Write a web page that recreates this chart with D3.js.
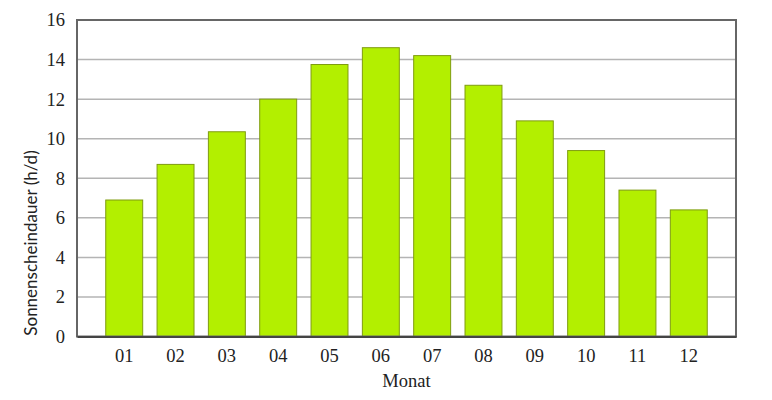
<!DOCTYPE html>
<html><head><meta charset="utf-8">
<script src="https://cdn.jsdelivr.net/npm/d3@7"></script>
<style>body{margin:0;background:#fff}svg{display:block}</style>
</head><body>
<svg id="c" width="772" height="400"></svg>
<script>
const months = ["01","02","03","04","05","06","07","08","09","10","11","12"];
const sunshine = [6.9, 8.7, 10.35, 12.0, 13.75, 14.6, 14.2, 12.7, 10.9, 9.4, 7.4, 6.4];
const yTicks = [0,2,4,6,8,10,12,14,16];
const xTitle = "Monat";
const yTitle = "Sonnenscheindauer (h/d)";

const svg = d3.select("#c");
const L = 77, R = 736, T = 20, B = 336.5;
const font = "'Liberation Serif', 'DejaVu Serif', serif";

const x = d3.scaleBand().domain(months).range([L, R]).paddingInner(0.28).paddingOuter(0.56);
const y = d3.scaleLinear().domain([0, 16]).range([B, T]);

// grid
svg.append("g").selectAll("line").data(yTicks.filter(t => t > 0 && t < 16)).join("line")
  .attr("x1", L).attr("x2", R).attr("y1", d => y(d)).attr("y2", d => y(d))
  .attr("stroke", "#b4b4b4").attr("stroke-width", 1.5);

// bars
svg.append("g").selectAll("rect").data(sunshine).join("rect")
  .attr("x", (d, i) => x(months[i]))
  .attr("width", x.bandwidth())
  .attr("y", d => y(d))
  .attr("height", d => y(0) - y(d))
  .attr("fill", "#b3ef00").attr("stroke", "#7f9c10").attr("stroke-width", 1);

// frame
svg.append("rect").attr("x", L).attr("y", T).attr("width", R - L).attr("height", B - T)
  .attr("fill", "none").attr("stroke", "#666").attr("stroke-width", 2);

// axes
const yAxis = d3.axisLeft(y).tickValues(yTicks).tickSize(0).tickPadding(12);
const ga = svg.append("g").attr("transform", `translate(${L},0)`).call(yAxis);
ga.select(".domain").remove();
ga.selectAll("text").attr("font-family", font).attr("font-size", 18.5).attr("fill", "#222");

const xAxis = d3.axisBottom(x).tickSize(0).tickPadding(12);
const gx = svg.append("g").attr("transform", `translate(0,${B})`).call(xAxis);
gx.select(".domain").attr("stroke", "#444").attr("stroke-width", 2);
gx.selectAll("text").attr("font-family", font).attr("font-size", 18.5).attr("fill", "#222");

svg.append("text").attr("x", (L + R) / 2).attr("y", 387).attr("text-anchor", "middle")
  .attr("font-family", font).attr("font-size", 18.5).attr("fill", "#222").text(xTitle);

svg.append("text").attr("transform", "translate(37,243) rotate(-90)").attr("text-anchor", "middle")
  .attr("font-family", "Lato, 'Open Sans', sans-serif").attr("font-size", 17).attr("fill", "#222").text(yTitle);
</script>
</body></html>
